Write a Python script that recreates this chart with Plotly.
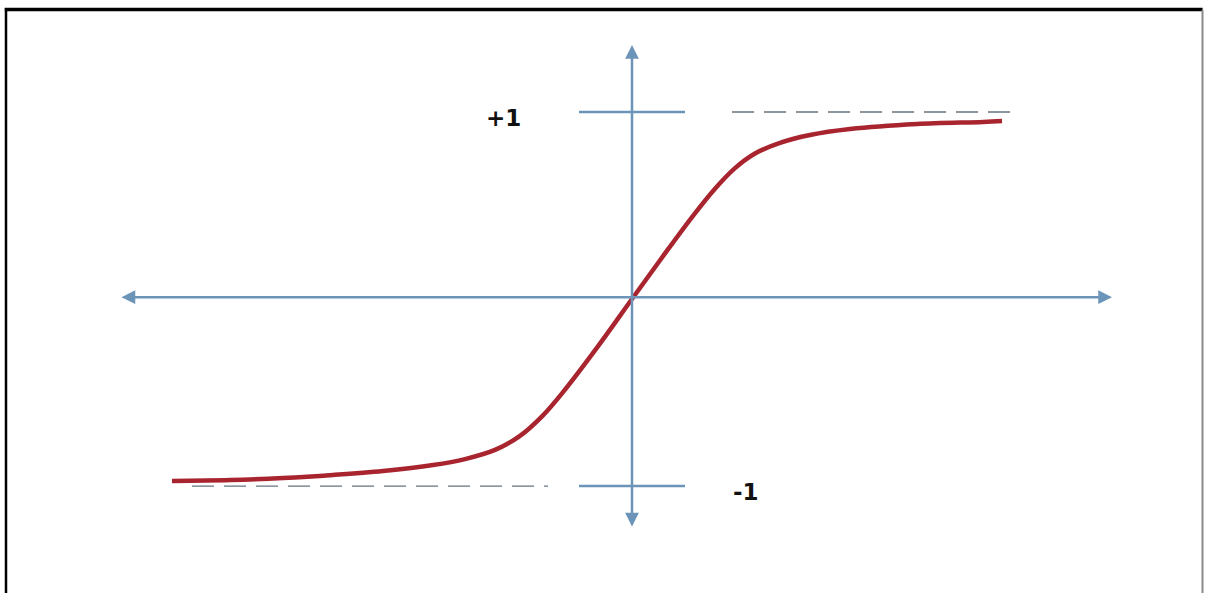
import plotly.graph_objects as go

# Sampled points of the S-shaped activation curve (saturates toward +1 / -1)
curve_x = [-4.6, -4.02, -3.49, -2.99, -2.49, -1.99, -1.67, -1.37, -1.12, -0.89,
           -0.69, -0.35, 0.0, 0.31, 0.61, 0.83, 1.03, 1.23, 1.48, 1.78,
           2.18, 2.85, 3.51, 3.7]
curve_y = [-0.973, -0.968, -0.957, -0.941, -0.920, -0.888, -0.856, -0.807, -0.732, -0.622,
           -0.498, -0.260, 0.0, 0.229, 0.445, 0.590, 0.700, 0.778, 0.835, 0.877,
           0.909, 0.936, 0.947, 0.952]

# Asymptote levels and their labels
levels = [1, -1]
level_labels = ["+1", "-1"]

AXIS_COLOR = "#6c93b8"
CURVE_COLOR = "#a8252f"
DASH_COLOR = "#66737e"

fig = go.Figure()

fig.add_trace(go.Scatter(
    x=curve_x, y=curve_y, mode="lines",
    line=dict(color=CURVE_COLOR, width=4.5, shape="spline", smoothing=1.0),
    hoverinfo="skip", showlegend=False,
))

# Dashed asymptote guides
fig.add_shape(type="line", x0=1.0, x1=3.78, y0=levels[0], y1=levels[0],
              line=dict(color=DASH_COLOR, width=1.3, dash="22px,10px"))
fig.add_shape(type="line", x0=-4.40, x1=-0.84, y0=levels[1], y1=levels[1],
              line=dict(color=DASH_COLOR, width=1.3, dash="22px,10px"))

# Short tick marks on the vertical axis at the asymptote levels
for lv in levels:
    fig.add_shape(type="line", x0=-0.53, x1=0.53, y0=lv, y1=lv,
                  line=dict(color=AXIS_COLOR, width=2.5))

# Double-headed axis arrows
arrow_style = dict(xref="x", yref="y", axref="x", ayref="y", text="", showarrow=True,
                   arrowhead=2, startarrowhead=2, arrowside="end+start",
                   arrowsize=1.1, startarrowsize=1.1, arrowwidth=2.5,
                   arrowcolor=AXIS_COLOR, standoff=0, startstandoff=0)
fig.add_annotation(x=4.80, y=0.01, ax=-5.12, ay=0.01, **arrow_style)
fig.add_annotation(x=0, y=1.358, ax=0, ay=-1.225, **arrow_style)

# Level labels
label_font = dict(family="DejaVu Sans", size=23, color="#111")
fig.add_annotation(x=-1.29, y=0.97, text="<b>" + level_labels[0] + "</b>",
                   showarrow=False, font=label_font)
fig.add_annotation(x=1.14, y=-1.03, text="<b>" + level_labels[1] + "</b>",
                   showarrow=False, font=label_font)

# Frame lines (top, left in black; right in grey)
fig.add_shape(type="line", xref="paper", yref="paper", x0=0.004, x1=0.998,
              y0=1 - 9.5 / 593, y1=1 - 9.5 / 593, line=dict(color="#000", width=3.5))
fig.add_shape(type="line", xref="paper", yref="paper", x0=6 / 1205, x1=6 / 1205,
              y0=0, y1=1 - 8 / 593, line=dict(color="#000", width=2.5))
fig.add_shape(type="line", xref="paper", yref="paper", x0=1202.5 / 1205, x1=1202.5 / 1205,
              y0=0, y1=1 - 10 / 593, line=dict(color="#8a8a8a", width=2))

fig.update_layout(
    width=1205, height=593,
    margin=dict(l=0, r=0, t=0, b=0),
    paper_bgcolor="white", plot_bgcolor="white",
    xaxis=dict(range=[-6.32, 5.73], visible=False, fixedrange=True),
    yaxis=dict(range=[-1.572, 1.599], visible=False, fixedrange=True),
    showlegend=False,
)

fig.write_html("out.html")
